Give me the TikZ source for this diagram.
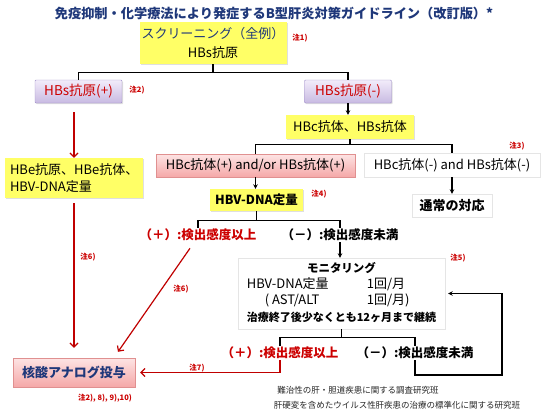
\documentclass[tikz,border=0pt]{standalone}
\usepackage{fontspec}
\setmainfont{Noto Sans CJK JP}
\usetikzlibrary{arrows.meta,shadows}

\definecolor{navy}{RGB}{31,56,122}
\definecolor{notered}{RGB}{204,0,0}
\definecolor{linered}{RGB}{192,0,0}
\definecolor{boxyellow}{RGB}{255,255,102}
\definecolor{lilactop}{RGB}{242,236,250}
\definecolor{lilacbot}{RGB}{200,186,226}
\definecolor{lilacline}{RGB}{160,144,200}
\definecolor{pinktop}{RGB}{253,228,228}
\definecolor{pinkbot}{RGB}{245,168,168}
\definecolor{pinkline}{RGB}{224,144,144}

\newcommand{\boxfont}{\fontsize{13}{16}\selectfont}
\newcommand{\notefont}{\bfseries\fontsize{7.5}{8}\selectfont}

\tikzset{
  box/.style={minimum height=23pt, inner sep=2pt, font=\boxfont,
    drop shadow={opacity=0.25, shadow xshift=1.2pt, shadow yshift=-1.2pt}},
  yellowbox/.style={box, fill=boxyellow},
  lilacbox/.style={box, top color=lilactop, bottom color=lilacbot, draw=lilacline,
    rounded corners=1pt, text=notered, font=\fontsize{13.5}{16}\selectfont},
  pinkbox/.style={box, top color=pinktop, bottom color=pinkbot, draw=pinkline},
  whitebox/.style={box, fill=white, draw=black!10,
    drop shadow={opacity=0.2, shadow xshift=1.2pt, shadow yshift=-1.2pt}},
  result/.style={inner sep=1pt, font=\bfseries\fontsize{12.5}{15}\selectfont},
  note/.style={text=notered, inner sep=0pt, font=\notefont},
  conn/.style={line width=1.2pt},
  arr/.style={conn, -{Stealth[length=4.5pt,width=4.5pt]}},
  redarr/.style={line width=1.2pt, linered, -{Straight Barb[length=4pt,width=8pt]}}
}

\begin{document}
\begin{tikzpicture}[x=1pt,y=-1pt]
  \useasboundingbox (0,0) rectangle (550,413);
  \fill[white] (0,0) rectangle (550,413);

  % Title
  \node[text=navy, font=\bfseries\fontsize{13.2}{15}\selectfont] (title) at (274,13)
    {免疫抑制・化学療法により発症するB型肝炎対策ガイドライン（改訂版）*};

  % Boxes
  \node[yellowbox, minimum width=137pt, minimum height=42pt, align=center,
    font=\fontsize{13}{19}\selectfont] (screen) at (213,43)
    {{\color{navy}スクリーニング（全例）}\\HBs抗原};
  \node[lilacbox, minimum width=87pt] (hbsp) at (78.5,91.5) {HBs抗原(+)};
  \node[lilacbox, minimum width=87pt] (hbsn) at (348,91.5) {HBs抗原(-)};
  \node[yellowbox, minimum width=128pt, minimum height=24pt] (hbcs) at (350,127) {HBc抗体、HBs抗体};
  \node[pinkbox, minimum width=199pt] (hbcpos) at (255.5,165.5) {HBc抗体(+) and/or HBs抗体(+)};
  \node[whitebox, minimum width=176pt, minimum height=24pt] (hbcneg) at (452,165) {HBc抗体(-) and HBs抗体(-)};
  \node[yellowbox, minimum width=93pt, minimum height=22pt,
    font=\bfseries\fontsize{12.5}{15}\selectfont] (hbvdna) at (256.5,200) {HBV-DNA定量};
  \node[whitebox, minimum width=80pt, font=\bfseries\fontsize{13}{16}\selectfont] (usual) at (452,205.5) {通常の対応};
  \node[yellowbox, minimum height=40pt, text width=128pt, inner sep=5pt, align=left,
    font=\fontsize{13}{17}\selectfont] (hbe) at (74,178) {HBe抗原、HBe抗体、\\HBV-DNA定量};
  \node[whitebox, minimum width=207pt, minimum height=71pt, inner sep=0pt,
    font=\fontsize{13}{16.3}\selectfont] (mon) at (341.5,293.5)
    {\begin{tabular}{@{}p{120pt}@{}l@{}}
       \multicolumn{2}{@{}c@{}}{\bfseries\fontsize{11.5}{16.3}\selectfont モニタリング}\\
       HBV-DNA定量 & 1回/月\\
       \hspace{18pt}( AST/ALT & 1回/月)\\
       \multicolumn{2}{@{}l@{}}{\bfseries\fontsize{11}{16.3}\selectfont 治療終了後少なくとも12ヶ月まで継続}
     \end{tabular}};
  \node[pinkbox, minimum width=122pt, minimum height=29pt, text=navy,
    font=\bfseries\fontsize{13}{16}\selectfont] (nuc) at (74,372.5) {核酸アナログ投与};

  % Results
  \node[result, text=notered] (plus1) at (198,235) {（＋）:検出感度以上};
  \node[result] (minus1) at (340,235) {（－）:検出感度未満};
  \node[result, text=notered] (plus2) at (280,353) {（＋）:検出感度以上};
  \node[result] (minus2) at (415,353) {（－）:検出感度未満};

  % Notes
  \node[note] (n1) at (300,38) {注1)};
  \node[note] (n2) at (137,90) {注2)};
  \node[note] (n3) at (517,146) {注3)};
  \node[note] (n4) at (319,194) {注4)};
  \node[note] (n5) at (458,258) {注5)};
  \node[note] (n6a) at (88,257) {注6)};
  \node[note] (n6b) at (181,289) {注6)};
  \node[note] (n7) at (197,368) {注7)};
  \node[note] (n8) at (105,398) {注2), 8), 9),10)};

  % Footer
  \node[font=\fontsize{8.5}{10}\selectfont, text=black!85] (foot1) at (358,390)
    {難治性の肝・胆道疾患に関する調査研究班};
  \node[font=\fontsize{8.5}{10}\selectfont, text=black!85] (foot2) at (397,405)
    {肝硬変を含めたウイルス性肝疾患の治療の標準化に関する研究班};

  % Connections
  \draw[conn] (screen.south) -- ++(0,8) coordinate (s1);
  \draw[conn] (hbsp.north) |- (s1) -| (hbsn.north);
  \draw[arr] (hbsn.south) -- (hbsn.south |- hbcs.north);
  \draw[conn] (hbcs.south) -- ++(0,5) coordinate (s2);
  \draw[conn] (hbcpos.north) |- (s2) -| (hbcneg.north);
  \draw[arr] (hbcpos.south) -- (hbcpos.south |- hbvdna.north);
  \draw[arr] (hbcneg.south) -- (hbcneg.south |- usual.north);
  \draw[conn] (hbvdna.south) -- ++(0,9) coordinate (s3);
  \draw[conn] (plus1.north) |- (s3) -| (minus1.north);
  \draw[arr] (minus1.south) -- (minus1.south |- mon.north);
  \draw[conn] (mon.south) -- ++(0,8) coordinate (s4);
  \draw[conn] (plus2.north) |- (s4) -| (minus2.north);
  \coordinate (loop) at (502,375);
  \draw[arr, shorten >=3pt] (minus2.south) |- (loop) |- (mon.east);

  % Red arrows
  \draw[redarr, shorten <=9pt] (hbe.north |- hbsp.south) -- (hbe.north);
  \draw[redarr, shorten <=5pt, shorten >=10pt] (hbe.south) -- (nuc.north);
  \draw[redarr] ([xshift=-8pt,yshift=-6pt]plus1.south) -- ([xshift=44pt,yshift=6pt]nuc.north);
  \draw[redarr, shorten >=5pt] (plus2.south) |- (nuc.east);
\end{tikzpicture}
\end{document}
